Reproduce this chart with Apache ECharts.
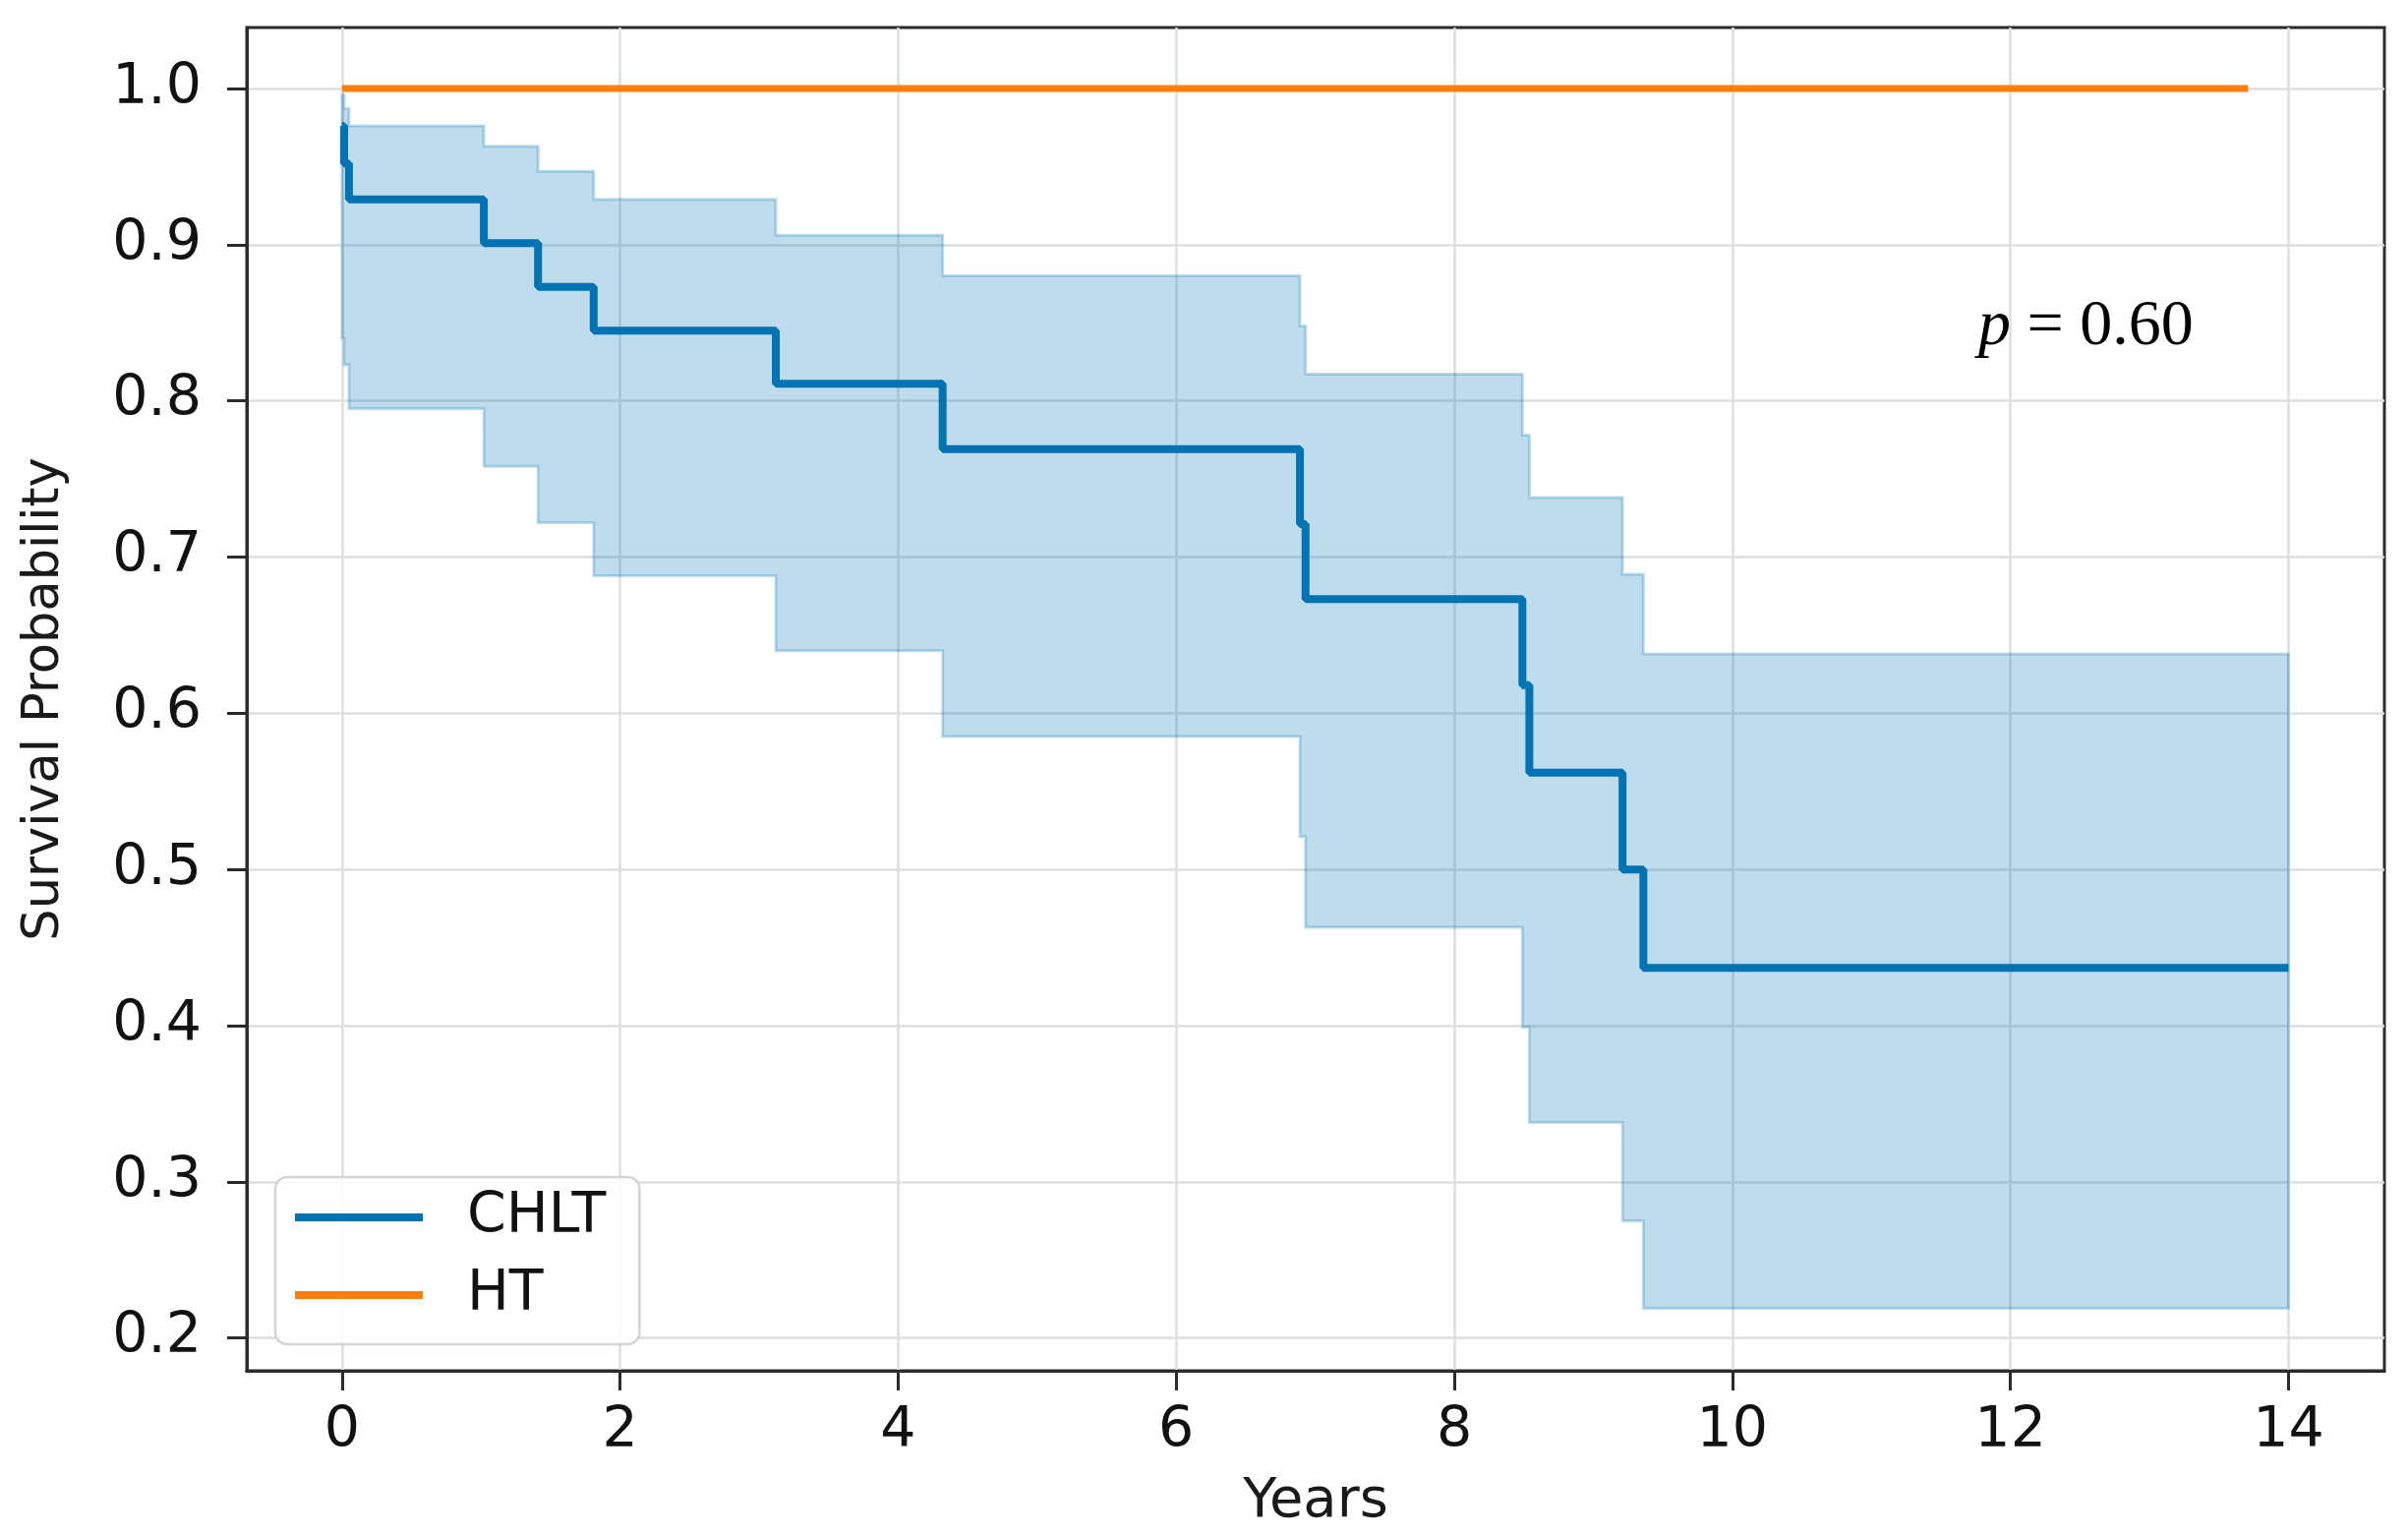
<!DOCTYPE html>
<html>
<head>
<meta charset="utf-8">
<script src="https://cdn.jsdelivr.net/npm/echarts@6/dist/echarts.min.js"></script>
<style>
html,body{margin:0;padding:0;background:#fff;}
#chart{width:2449px;height:1561px;}
</style>
</head>
<body>
<div id="chart"></div>
<script>
// ---- data ----
const chltYears    = [0, 0.015, 0.05, 1.02, 1.41, 1.81, 3.12, 4.32, 6.89, 6.93, 8.49, 8.54, 9.21, 9.36, 14.0];
const chltSurvival = [0.976, 0.952, 0.929, 0.901, 0.873, 0.845, 0.811, 0.769, 0.721, 0.673, 0.618, 0.562, 0.500, 0.437, 0.437];
const chltUpper    = [0.996, 0.987, 0.976, 0.963, 0.947, 0.929, 0.906, 0.880, 0.848, 0.817, 0.778, 0.738, 0.689, 0.638, 0.638];
const chltLower    = [0.840, 0.823, 0.795, 0.758, 0.722, 0.688, 0.640, 0.585, 0.521, 0.463, 0.399, 0.338, 0.275, 0.219, 0.219];
const htYears      = [0, 13.71];
const htSurvival   = [1.0, 1.0];
const xTicks = [0, 2, 4, 6, 8, 10, 12, 14];
const yTicks = [0.2, 0.3, 0.4, 0.5, 0.6, 0.7, 0.8, 0.9, 1.0];
const seriesNames = ['CHLT', 'HT'];
const pLabel = '{i|p} = 0.60';

const BLUE = '#0173b2';
const ORANGE = '#ff7f0e';
const zip = (a, b) => a.map((v, i) => [v, b[i]]);

const chart = echarts.init(document.getElementById('chart'), null, {renderer: 'canvas'});

const axisText = {fontFamily: 'DejaVu Sans', fontSize: 57, color: '#111'};

const option = {
  animation: false,
  backgroundColor: '#ffffff',
  grid: {
    left: 251, right: 24, top: 28, bottom: 167,
    show: true, borderColor: '#2b2b2b', borderWidth: 3, backgroundColor: 'transparent'
  },
  xAxis: {
    type: 'value', min: -0.685, max: 14.69,
    name: 'Years', nameLocation: 'middle', nameGap: 105,
    nameTextStyle: {fontFamily: 'DejaVu Sans', fontSize: 56, color: '#1a1a1a'},
    axisLine: {show: true, onZero: false, lineStyle: {color: '#2b2b2b', width: 3}},
    axisTick: {show: true, inside: false, length: 20, lineStyle: {color: '#2b2b2b', width: 3}, customValues: xTicks},
    axisLabel: Object.assign({margin: 34, customValues: xTicks, formatter: v => String(v)}, axisText),
    splitLine: {show: true, lineStyle: {color: '#dedede', width: 2.5}}
  },
  yAxis: {
    type: 'value', min: 0.179, max: 1.039,
    name: 'Survival Probability', nameLocation: 'middle', nameGap: 180,
    nameTextStyle: {fontFamily: 'DejaVu Sans', fontSize: 51, color: '#1a1a1a'},
    axisLine: {show: true, onZero: false, lineStyle: {color: '#2b2b2b', width: 3}},
    axisTick: {show: true, inside: false, length: 20, lineStyle: {color: '#2b2b2b', width: 3}, customValues: yTicks},
    axisLabel: Object.assign({margin: 46, customValues: yTicks, formatter: v => v.toFixed(1)}, axisText),
    splitLine: {show: true, lineStyle: {color: '#dedede', width: 2.5}}
  },
  legend: {
    show: true, orient: 'vertical', left: 280, top: 1197,
    data: [{name: seriesNames[0], icon: 'rect'}, {name: seriesNames[1], icon: 'rect'}],
    itemWidth: 130, itemHeight: 8, itemGap: 19,
    padding: [11, 34, 20, 20],
    backgroundColor: 'rgba(255,255,255,0.85)', borderColor: '#d4d4d4', borderWidth: 2.5, borderRadius: 12,
    textStyle: {fontFamily: 'DejaVu Sans', fontSize: 57, color: '#111', lineHeight: 60, padding: [0, 0, 0, 40]}
  },
  graphic: [{
    type: 'text', left: 2012, top: 300, z: 100,
    style: {
      text: pLabel, fill: '#000',
      font: '66px "Liberation Serif"',
      rich: {i: {fontStyle: 'italic', fontFamily: 'Liberation Serif', fontSize: 66, fill: '#000'}}
    }
  }],
  series: [
    {
      type: 'custom', name: 'CHLT CI', silent: true, z: 1,
      data: [[0, 0]],
      renderItem: function (params, api) {
        const pts = [];
        const n = chltYears.length;
        for (let i = 0; i < n - 1; i++) {
          pts.push(api.coord([chltYears[i], chltUpper[i]]));
          pts.push(api.coord([chltYears[i + 1], chltUpper[i]]));
        }
        pts.push(api.coord([chltYears[n - 1], chltUpper[n - 1]]));
        pts.push(api.coord([chltYears[n - 1], chltLower[n - 1]]));
        for (let i = n - 2; i >= 0; i--) {
          pts.push(api.coord([chltYears[i + 1], chltLower[i]]));
          pts.push(api.coord([chltYears[i], chltLower[i]]));
        }
        return {
          type: 'polygon',
          shape: {points: pts},
          style: {fill: 'rgba(1,115,178,0.25)', stroke: 'rgba(1,115,178,0.25)', lineWidth: 3}
        };
      }
    },
    {
      type: 'line', name: seriesNames[0], step: 'end', symbol: 'none', z: 3,
      data: zip(chltYears, chltSurvival),
      itemStyle: {color: BLUE},
      lineStyle: {color: BLUE, width: 8}
    },
    {
      type: 'line', name: seriesNames[1], step: 'end', symbol: 'none', z: 4,
      data: zip(htYears, htSurvival),
      itemStyle: {color: ORANGE},
      lineStyle: {color: ORANGE, width: 7}
    }
  ]
};
chart.setOption(option);
</script>
</body>
</html>
